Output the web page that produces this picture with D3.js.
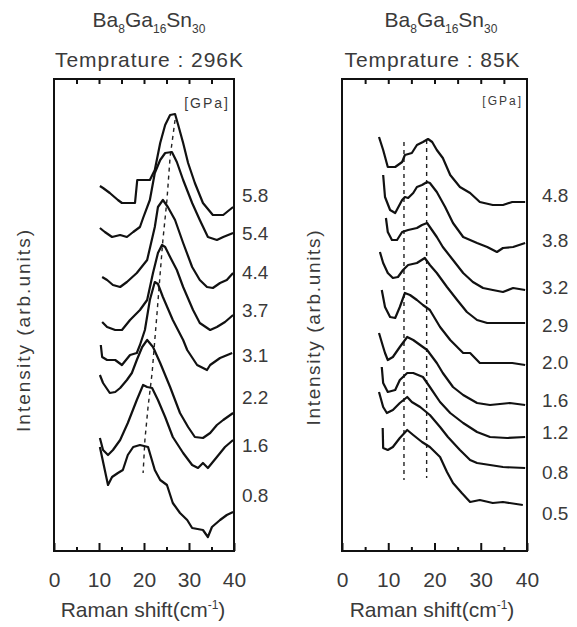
<!DOCTYPE html>
<html>
<head>
<meta charset="utf-8">
<script src="https://cdn.jsdelivr.net/npm/d3@7"></script>
<style>
  body { margin: 0; background: #fff; }
  svg text { font-family: "Liberation Sans", Arial, sans-serif; fill: #3a3a3a; }
</style>
</head>
<body>
<div id="chart"></div>
<script>
// Raman spectra of Ba8Ga16Sn30 under pressure, two temperatures
// x = Raman shift (cm^-1), y = intensity (arb. units, curves already offset)

const xTickLabels = [0, 10, 20, 30, 40];
const xMinorTicks = [5, 15, 25, 35];

// --- 296 K panel ---
const rtPressures = ['5.8', '5.4', '4.4', '3.7', '3.1', '2.2', '1.6', '0.8'];
const rtLabelLevels = [356, 318, 279, 241, 196, 154, 106, 56];
const rtSpectra = [
  [[10.2,365],[10.9,363],[12.4,358],[14.2,351],[15.1,348],[18.0,348],[18.5,371],[21.3,371],[22.4,381],[23.6,408],[24.7,426],[25.8,436],[26.9,437],[27.6,426],[28.7,408],[29.8,388],[31.3,368],[33.1,348],[35.3,336],[37.6,336],[39.8,344]],
  [[10.2,323],[11.3,319],[12.9,314],[14.7,316],[16.2,314],[17.6,319],[19.1,324],[19.8,333],[21.3,351],[22.4,378],[23.6,391],[24.7,398],[26.2,399],[27.3,389],[28.7,371],[30.7,348],[32.4,331],[34.2,314],[36.2,311],[37.6,314],[39.8,318]],
  [[10.7,274],[11.8,271],[13.1,266],[14.7,264],[16.2,269],[18.4,278],[20.7,291],[22.4,324],[23.1,344],[24.2,351],[25.3,344],[26.9,331],[28.7,308],[30.7,284],[32.4,271],[34.0,264],[35.3,263],[36.9,268],[38.4,271],[39.8,278]],
  [[10.7,229],[11.8,224],[13.6,221],[15.1,221],[16.9,231],[19.1,241],[20.7,251],[22.0,278],[23.1,298],[24.0,306],[24.7,304],[25.8,294],[27.3,281],[28.7,264],[30.9,241],[32.4,228],[34.7,221],[36.2,224],[38.0,229],[39.8,236]],
  [[10.4,206],[10.7,194],[11.8,191],[13.6,191],[15.1,186],[16.9,196],[18.4,198],[19.1,206],[20.2,221],[21.3,251],[22.4,269],[23.1,267],[24.2,254],[26.4,231],[28.7,211],[29.6,201],[31.8,186],[34.0,181],[34.7,186],[36.9,193],[39.6,198]],
  [[10.2,176],[10.9,168],[12.4,158],[13.6,159],[14.7,163],[16.2,171],[17.3,178],[18.4,191],[19.6,204],[20.7,211],[22.0,204],[23.6,188],[25.8,164],[28.0,138],[29.8,124],[31.3,114],[33.1,113],[34.7,118],[36.2,126],[37.6,131],[39.8,138]],
  [[10.2,113],[10.9,101],[12.0,96],[13.1,101],[14.7,111],[16.4,128],[18.4,151],[19.8,166],[20.7,164],[21.8,163],[23.1,151],[24.7,134],[26.4,114],[28.7,98],[30.7,86],[32.0,83],[33.1,88],[34.2,83],[36.2,94],[38.0,104],[39.8,111]],
  [[10.2,104],[12.0,66],[12.9,74],[14.2,78],[15.3,81],[16.4,96],[17.6,104],[19.1,106],[20.9,104],[22.4,81],[23.6,71],[25.1,66],[26.4,48],[28.0,38],[29.6,31],[30.7,23],[33.1,21],[34.2,14],[35.1,24],[36.9,31],[38.4,36],[39.8,39]]
];
const rtPeakTrace = [[26.9,431],[25.8,394],[25.1,351],[24.2,311],[23.6,278],[22.9,238],[22.4,211],[21.8,178],[20.9,144],[20.2,111],[19.8,78]];

// --- 85 K panel ---
const ltPressures = ['4.8', '3.8', '3.2', '2.9', '2.0', '1.6', '1.2', '0.8', '0.5'];
const ltLabelLevels = [356, 311, 264, 226, 189, 151, 119, 79, 38];
const ltSpectra = [
  [[8.0,414],[8.9,401],[9.9,384],[11.5,384],[13.0,389],[13.6,396],[15.1,398],[16.2,406],[17.5,409],[18.6,412],[19.5,409],[20.5,401],[21.8,393],[23.4,376],[25.5,364],[27.7,358],[29.8,349],[32.6,346],[34.8,346],[36.8,349],[39.6,349]],
  [[8.9,376],[9.3,354],[10.4,341],[11.5,338],[13.0,351],[13.6,354],[14.3,353],[15.4,358],[16.2,364],[17.3,366],[18.4,369],[19.0,368],[20.5,359],[22.3,344],[24.0,328],[26.2,314],[29.2,308],[31.4,304],[33.5,299],[34.8,303],[37.0,304],[39.6,308]],
  [[9.5,333],[9.9,319],[10.8,311],[11.9,311],[13.0,319],[14.3,321],[16.2,323],[17.3,326],[18.4,328],[19.0,324],[20.5,314],[21.8,304],[24.0,291],[26.2,278],[28.3,269],[30.5,263],[32.6,261],[34.8,259],[37.0,263],[39.6,261]],
  [[8.2,299],[8.9,288],[9.9,278],[11.0,273],[12.1,274],[13.2,281],[14.3,286],[16.2,288],[17.9,293],[19.0,286],[20.5,278],[22.7,264],[24.9,251],[27.0,239],[29.2,231],[31.4,228],[34.2,228],[39.6,228]],
  [[8.6,261],[9.3,244],[10.4,234],[11.5,233],[12.5,244],[13.6,258],[14.7,256],[16.2,251],[17.5,246],[19.0,241],[21.2,224],[23.4,211],[26.2,198],[27.7,198],[29.8,188],[33.5,188],[36.8,188],[39.6,186]],
  [[8.0,218],[8.9,204],[9.3,198],[9.9,191],[11.0,194],[12.5,204],[14.1,214],[15.4,211],[17.5,204],[18.4,201],[20.5,188],[21.8,178],[24.0,164],[26.2,156],[29.2,148],[32.0,146],[36.3,148],[39.6,146]],
  [[8.6,184],[8.9,168],[9.9,159],[11.5,161],[12.5,171],[14.1,178],[15.4,178],[17.5,174],[19.0,164],[21.2,149],[23.4,138],[26.2,128],[29.2,119],[32.0,114],[35.7,113],[39.6,114]],
  [[8.0,159],[8.9,144],[9.7,138],[11.0,141],[12.5,148],[14.1,154],[15.1,149],[16.9,144],[19.0,136],[21.2,124],[22.9,114],[25.5,101],[27.7,91],[29.2,88],[32.0,86],[34.8,84],[39.6,83]],
  [[8.8,123],[8.9,103],[9.9,101],[11.0,104],[12.5,113],[14.1,121],[15.4,116],[17.3,109],[19.0,104],[21.2,94],[22.7,79],[24.0,68],[25.9,58],[27.7,49],[29.8,51],[32.6,48],[34.8,49],[39.1,46]]
];
const ltPeakLines = [
  [[13.4,409],[13.4,71]],
  [[18.3,411],[18.3,73]]
];

const svg = d3.select('#chart')
  .append('svg')
  .attr('width', 577)
  .attr('height', 627);

const y = d3.scaleLinear().domain([0, 472]).range([551, 79]);

const line = (x) => d3.line()
  .x(d => x(d[0]))
  .y(d => y(d[1]));

function drawPanel(opt) {
  const x = d3.scaleLinear().domain([0, 40]).range([opt.left, opt.right]);
  const g = svg.append('g');
  const cx = (opt.left + opt.right) / 2;

  // title: formula + temperature
  const formula = g.append('text')
    .attr('x', opt.titleX)
    .attr('y', 33)
    .attr('text-anchor', 'middle')
    .style('font-size', '21px');
  [['Ba', '8'], ['Ga', '16'], ['Sn', '30']].forEach(([el, n]) => {
    formula.append('tspan').attr('dy', formula.selectAll('tspan').size() ? -6 : 0).text(el);
    formula.append('tspan').attr('dy', 6).style('font-size', '12px').text(n);
  });

  g.append('text')
    .attr('x', opt.tempX)
    .attr('y', 67)
    .attr('text-anchor', 'middle')
    .attr('textLength', opt.tempLen)
    .attr('lengthAdjust', 'spacing')
    .style('font-size', '21px')
    .text(opt.temp);

  // y label
  g.append('text')
    .attr('transform', `translate(${opt.yLabelX},${opt.yLabelY}) rotate(-90)`)
    .attr('text-anchor', 'middle')
    .attr('textLength', opt.yLabelLen)
    .attr('lengthAdjust', 'spacing')
    .style('font-size', '19px')
    .text('Intensity (arb.units)');

  // x ticks with labels
  const bottom = g.append('g')
    .attr('transform', `translate(0,${y(0)})`)
    .call(d3.axisBottom(x).tickValues(xTickLabels).tickSize(-8).tickPadding(21).tickFormat(d3.format('d')));
  bottom.select('.domain').remove();
  bottom.selectAll('line').attr('stroke', '#111').attr('stroke-width', 2);
  bottom.selectAll('text').style('font-size', '21px').attr('fill', '#3a3a3a');

  const minor = g.append('g')
    .attr('transform', `translate(0,${y(0)})`)
    .call(d3.axisBottom(x).tickValues(xMinorTicks).tickSize(-4).tickFormat(''));
  minor.select('.domain').remove();
  minor.selectAll('line').attr('stroke', '#111').attr('stroke-width', 2);

  const top = g.append('g')
    .attr('transform', `translate(0,${y(472)})`)
    .call(d3.axisTop(x).tickValues([5, 10, 15, 20, 25, 30, 35]).tickSize(-5).tickFormat(''));
  top.select('.domain').remove();
  top.selectAll('line').attr('stroke', '#111').attr('stroke-width', 2);

  // frame
  g.append('rect')
    .attr('x', x(0))
    .attr('y', y(472))
    .attr('width', x(40) - x(0))
    .attr('height', y(0) - y(472))
    .attr('fill', 'none')
    .attr('stroke', '#111')
    .attr('stroke-width', 2);

  // x label with superscript
  const xl = g.append('text')
    .attr('x', opt.xLabelX)
    .attr('y', 617)
    .attr('text-anchor', 'middle')
    .style('font-size', '21px');
  xl.append('tspan').text('Raman shift(cm');
  xl.append('tspan').attr('dy', -8).style('font-size', '12px').text('-1');
  xl.append('tspan').attr('dy', 8).text(')');

  // unit tag
  g.append('text')
    .attr('x', x(40) - 4)
    .attr('y', opt.unitY)
    .attr('text-anchor', 'end')
    .attr('letter-spacing', 2)
    .style('font-size', opt.unitSize)
    .text('[GPa]');

  // dashed guides
  g.selectAll('.guide')
    .data(opt.guides)
    .enter()
    .append('path')
    .attr('class', 'guide')
    .attr('d', line(x))
    .attr('fill', 'none')
    .attr('stroke', '#222')
    .attr('stroke-width', 1.4)
    .attr('stroke-dasharray', '4,4');

  // spectra
  g.selectAll('.spectrum')
    .data(opt.spectra)
    .enter()
    .append('path')
    .attr('class', 'spectrum')
    .attr('d', line(x))
    .attr('fill', 'none')
    .attr('stroke', '#111')
    .attr('stroke-width', 2.2)
    .attr('stroke-linejoin', 'round');

  // pressure labels
  g.selectAll('.plabel')
    .data(opt.pressures)
    .enter()
    .append('text')
    .attr('class', 'plabel')
    .attr('x', x(40) + opt.labelGap)
    .attr('y', (d, i) => y(opt.levels[i]))
    .attr('dy', '0.35em')
    .style('font-size', '19px')
    .text(d => d);
}

drawPanel({
  left: 54, right: 234,
  titleX: 149, tempX: 149, tempLen: 188, temp: 'Temprature : 296K',
  yLabelX: 30, yLabelY: 331, yLabelLen: 202,
  xLabelX: 143, unitY: 108, unitSize: '14px', labelGap: 8,
  spectra: rtSpectra, pressures: rtPressures, levels: rtLabelLevels,
  guides: [rtPeakTrace]
});

drawPanel({
  left: 342, right: 527,
  titleX: 441, tempX: 432, tempLen: 175, temp: 'Temprature : 85K',
  yLabelX: 320, yLabelY: 328, yLabelLen: 195,
  xLabelX: 432, unitY: 105, unitSize: '12px', labelGap: 15,
  spectra: ltSpectra, pressures: ltPressures, levels: ltLabelLevels,
  guides: ltPeakLines
});
</script>
</body>
</html>
